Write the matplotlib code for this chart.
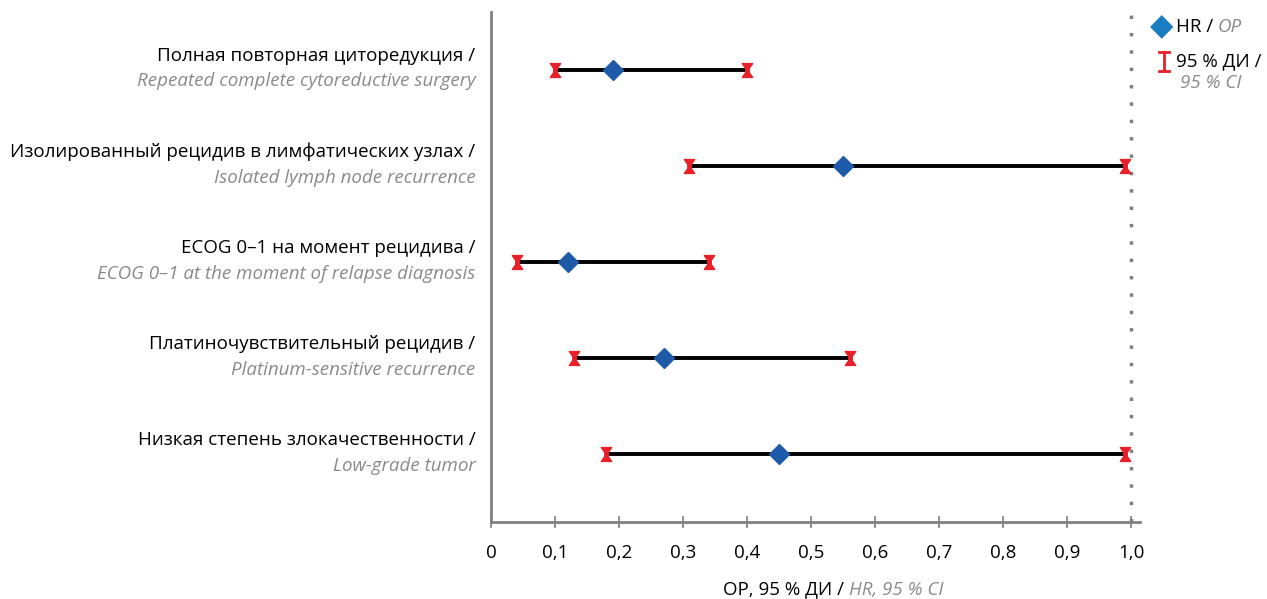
import numpy as np
import matplotlib.pyplot as plt
from matplotlib.path import Path

# Data
labels_ru = ['Полная повторная циторедукция /',
             'Изолированный рецидив в лимфатических узлах /',
             'ECOG 0–1 на момент рецидива /',
             'Платиночувствительный рецидив /',
             'Низкая степень злокачественности /']
labels_en = ['Repeated complete cytoreductive surgery',
             'Isolated lymph node recurrence',
             'ECOG 0–1 at the moment of relapse diagnosis',
             'Platinum-sensitive recurrence',
             'Low-grade tumor']
hr = [0.19, 0.55, 0.12, 0.27, 0.45]
ci_low = [0.10, 0.31, 0.04, 0.13, 0.18]
ci_high = [0.40, 0.99, 0.34, 0.56, 0.99]
xticks = [0, 0.1, 0.2, 0.3, 0.4, 0.5, 0.6, 0.7, 0.8, 0.9, 1.0]
xtick_labels = ['0', '0,1', '0,2', '0,3', '0,4', '0,5', '0,6', '0,7', '0,8', '0,9', '1,0']

plt.rcParams['font.family'] = ['Open Sans', 'DejaVu Sans']

red = '#e8202a'
blue_marker = '#1f5aa8'
blue_legend = '#1a7cc1'
grey_text = '#8a8a8a'
axis_grey = '#808080'

# I-beam / hourglass cap marker
cap = Path([(-0.75, 1), (0.75, 1), (0.25, 0.3), (0.25, -0.3), (0.75, -1), (-0.75, -1),
            (-0.25, -0.3), (-0.25, 0.3), (-0.75, 1)],
           [Path.MOVETO] + [Path.LINETO] * 7 + [Path.CLOSEPOLY])

fig = plt.figure(figsize=(12.67, 5.99), dpi=100)
ax = fig.add_axes([0.3875, 0.1285, 0.5125, 0.8515])

y = np.arange(len(hr), 0, -1)

ax.axvline(1.0, color=axis_grey, linestyle=(0, (1, 4)), linewidth=2.5, zorder=1)
ax.hlines(y, ci_low, ci_high, color='black', linewidth=2.8, zorder=2)
ax.plot(ci_low, y, linestyle='none', marker=cap, markersize=10, color=red, zorder=3)
ax.plot(ci_high, y, linestyle='none', marker=cap, markersize=10, color=red, zorder=3)
ax.plot(hr, y, linestyle='none', marker='D', markersize=10, color=blue_marker, zorder=4)

ax.set_xlim(0, 1.014)
ax.set_ylim(0.292, 5.604)
ax.set_xticks(xticks)
ax.set_xticklabels(xtick_labels, fontsize=13.5)
ax.set_yticks([])
ax.tick_params(axis='x', direction='inout', length=9, width=1.2, color=axis_grey, pad=11)

for s in ['top', 'right']:
    ax.spines[s].set_visible(False)
for s in ['left', 'bottom']:
    ax.spines[s].set_color(axis_grey)
    ax.spines[s].set_linewidth(2)

# row labels
for yi, ru, en in zip(y, labels_ru, labels_en):
    ax.text(-0.024, yi + 0.15, ru, ha='right', va='center', fontsize=13.5,
            color='black', clip_on=False)
    ax.text(-0.024, yi - 0.12, en, ha='right', va='center', fontsize=13.5,
            color=grey_text, style='italic', clip_on=False)

# x label with mixed styles
t = fig.text(0.670, 0.0155, 'ОР, 95 % ДИ / ', ha='right', va='center', fontsize=13.5, color='black')
ax.annotate('HR, 95 % CI', xy=(1, 0.5), xycoords=t, va='center', ha='left',
            fontsize=13.5, color=grey_text, style='italic', annotation_clip=False)

# legend
fig.text(0.9165, 0.955, '\u25c6', ha='center', va='center', fontsize=22, color=blue_legend,
         family='DejaVu Sans')
t1 = fig.text(0.928, 0.955, 'HR / ', ha='left', va='center', fontsize=13.5, color='black')
ax.annotate('OP', xy=(1, 0.5), xycoords=t1, va='center', ha='left',
            fontsize=13.5, color=grey_text, style='italic', annotation_clip=False)
fig.add_artist(plt.Line2D([0.9185, 0.9185], [0.882, 0.914], color=red, linewidth=2))
fig.add_artist(plt.Line2D([0.9145, 0.9225], [0.882, 0.882], color=red, linewidth=2))
fig.add_artist(plt.Line2D([0.9145, 0.9225], [0.914, 0.914], color=red, linewidth=2))
fig.text(0.928, 0.898, '95 % ДИ /', ha='left', va='center', fontsize=13.5, color='black')
fig.text(0.931, 0.862, '95 % CI', ha='left', va='center', fontsize=13.5, color=grey_text, style='italic')

fig.savefig('out.png', dpi=100)
